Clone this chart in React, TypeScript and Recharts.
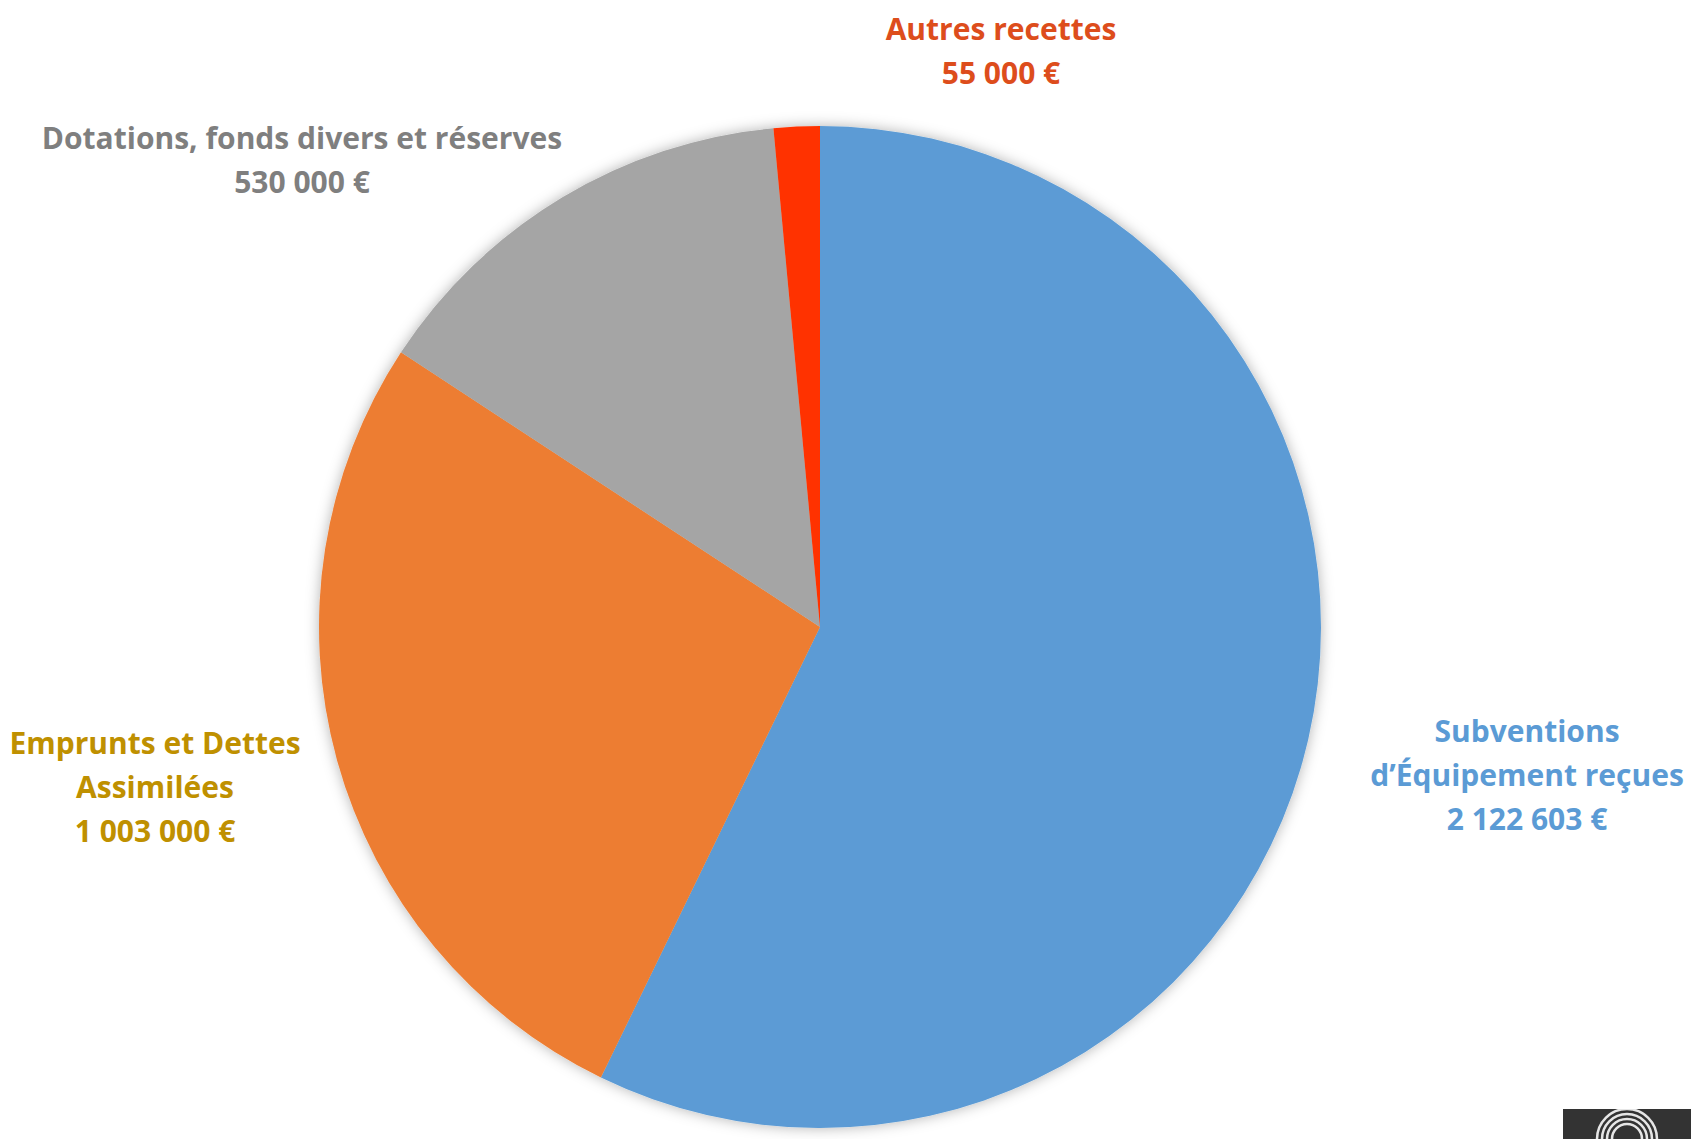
import React from 'react';
import { PieChart, Pie, Cell } from 'recharts';

const categories = [
  'Subventions d’Équipement reçues',
  'Emprunts et Dettes Assimilées',
  'Dotations, fonds divers et réserves',
  'Autres recettes',
];
const amounts = [2122603, 1003000, 530000, 55000];
const labelLines = [
  ['Subventions', 'd’Équipement reçues'],
  ['Emprunts et Dettes', 'Assimilées'],
  ['Dotations, fonds divers et réserves'],
  ['Autres recettes'],
];
const sliceColors = ['#5B9BD5', '#ED7D31', '#A5A5A5', '#FF3300'];
const labelColors = ['#5B9BD5', '#BF9000', '#7F7F7F', '#DD4D1C'];

// label anchor offsets from the pie centre (first baseline)
const labelOffsets = [
  { dx: 707, dy: 115 },
  { dx: -665, dy: 127 },
  { dx: -518, dy: -478 },
  { dx: 181, dy: -587 },
];

const fmt = (v: number) => v.toLocaleString('fr-FR').replace(/\s/g, ' ') + ' €';

const data = categories.map((name, i) => ({ name, value: amounts[i] }));

const renderLabel = (props: any) => {
  const { cx, cy, index } = props;
  const off = labelOffsets[index];
  const lines = [...labelLines[index], fmt(amounts[index])];
  return (
    <text
      x={cx + off.dx}
      y={cy + off.dy}
      textAnchor="middle"
      fill={labelColors[index]}
      fontSize={30}
      fontWeight={700}
      fontFamily="'Open Sans', Lato, sans-serif"
    >
      {lines.map((l, j) => (
        <tspan key={j} x={cx + off.dx} dy={j === 0 ? 0 : 44}>
          {l}
        </tspan>
      ))}
    </text>
  );
};

export default function App() {
  return (
    <div style={{ position: 'absolute', left: 0, top: 0, width: 1691, height: 1139, background: '#fff' }}>
      <svg width={0} height={0} style={{ position: 'absolute' }}>
        <defs>
          <filter id="pieShadow" x="-10%" y="-10%" width="120%" height="120%">
            <feDropShadow dx="0" dy="0" stdDeviation="7" floodColor="#000" floodOpacity="0.3" />
          </filter>
        </defs>
      </svg>
      <style>{`.pie-shadow .recharts-pie { filter: url(#pieShadow); }`}</style>
      <div className="pie-shadow">
        <PieChart width={1691} height={1139} margin={{ top: 0, right: 0, bottom: 0, left: 0 }}>
          <Pie
            data={data}
            dataKey="value"
            nameKey="name"
            cx={820}
            cy={627}
            outerRadius={501}
            startAngle={90}
            endAngle={-270}
            stroke="none"
            labelLine={false}
            label={renderLabel}
            isAnimationActive={false}
          >
            {data.map((d, i) => (
              <Cell key={d.name} fill={sliceColors[i]} />
            ))}
          </Pie>
        </PieChart>
      </div>
      <svg width={128} height={30} style={{ position: 'absolute', left: 1563, top: 1109 }}>
        <rect x={0} y={0} width={128} height={30} fill="#333333" />
        {[30, 25, 20, 15].map((r) => (
          <path
            key={r}
            d={`M ${64 - r} 30 A ${r} ${r} 0 0 1 ${64 + r} 30`}
            fill="none"
            stroke="#e6e6e6"
            strokeWidth={2.5}
          />
        ))}
      </svg>
    </div>
  );
}
